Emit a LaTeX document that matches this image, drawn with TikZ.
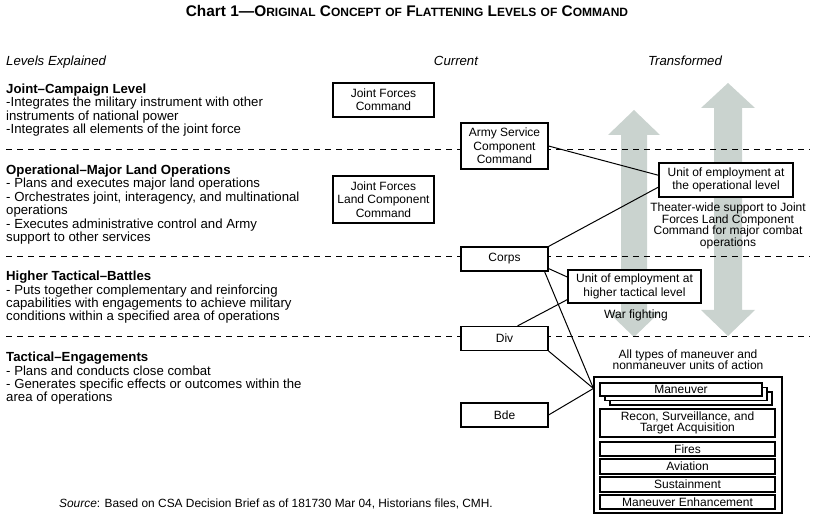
\documentclass[tikz,border=0pt]{standalone}
\usepackage{fontspec}
\setmainfont{Liberation Sans}
\usetikzlibrary{calc}

\definecolor{arrowgray}{RGB}{202,211,207}
\newcommand\lvlfont{\fontsize{13.2}{13.4}\selectfont}
\newcommand\boxfont{\fontsize{12}{13.3}\selectfont}
\newcommand\notefont{\fontsize{12}{11.7}\selectfont}
\newcommand\smallcap[1]{{\fontsize{12}{12}\selectfont #1}}

\begin{document}
\begin{tikzpicture}[x=1pt,y=-1pt,
    unitbox/.style={draw,line width=1.1pt,fill=white,align=center,inner sep=0pt,font=\boxfont},
    lvlline/.style={line width=1pt,dash pattern=on 6pt off 5pt},
    link/.style={line width=1pt},
    fatarrow/.style={fill=arrowgray,draw=none},
    lvltext/.style={anchor=base west,align=left,inner sep=0pt,font=\lvlfont},
    note/.style={anchor=base,align=center,inner sep=0pt,font=\notefont}]

    \useasboundingbox (0,0) rectangle (820,518);

    % title and column heads
    \node[anchor=base,inner sep=0pt,font=\fontsize{15.4}{15.4}\selectfont\bfseries] (title) at (407,17)
        {Chart 1—O\smallcap{RIGINAL} C\smallcap{ONCEPT} \smallcap{OF} F\smallcap{LATTENING} L\smallcap{EVELS} \smallcap{OF} C\smallcap{OMMAND}};
    \node[anchor=base west,inner sep=0pt,font=\lvlfont\itshape] (explhead) at (6,66) {Levels Explained};
    \node[anchor=base,inner sep=0pt,font=\lvlfont\itshape] (curhead) at (456,66) {Current};
    \node[anchor=base,inner sep=0pt,font=\lvlfont\itshape] (trnhead) at (685,66) {Transformed};

    % wide grey arrows
    \fill[fatarrow] (634,110) -- (660,135) -- (647,135) -- (647,312) -- (660,312) -- (634,337)
        -- (608,312) -- (621,312) -- (621,135) -- (608,135) -- cycle;
    \fill[fatarrow] (728,83) -- (755,108) -- (742,108) -- (742,310) -- (755,310) -- (728,336)
        -- (701,310) -- (714,310) -- (714,108) -- (701,108) -- cycle;

    % level separators
    \draw[lvlline] (6,150) -- (810,150);
    \draw[lvlline] (6,257) -- (810,257);
    \draw[lvlline] (6,337) -- (810,337);

    % levels explained (base = last line)
    \node[lvltext] (joint) at (6,133.5) {\textbf{Joint–Campaign Level}\\
        -Integrates the military instrument with other\\
        instruments of national power\\
        -Integrates all elements of the joint force};
    \node[lvltext] (oper) at (6,241.5) {\textbf{Operational–Major Land Operations}\\
        - Plans and executes major land operations\\
        - Orchestrates joint, interagency, and multinational\\
        operations\\
        - Executes administrative control and Army\\
        support to other services};
    \node[lvltext] (hightac) at (6,321) {\textbf{Higher Tactical–Battles}\\
        - Puts together complementary and reinforcing\\
        capabilities with engagements to achieve military\\
        conditions within a specified area of operations};
    \node[lvltext] (tac) at (6,402) {\textbf{Tactical–Engagements}\\
        - Plans and conducts close combat\\
        - Generates specific effects or outcomes within the\\
        area of operations};

    % current
    \node[unitbox,minimum width=101pt,minimum height=34pt] (jfc) at (383.5,100) {Joint Forces\\Command};
    \node[unitbox,minimum width=101pt,minimum height=47pt] (jflcc) at (383.5,199.5) {Joint Forces\\Land Component\\Command};
    \node[unitbox,minimum width=87pt,minimum height=46pt] (ascc) at (504.5,146) {Army Service\\Component\\Command};
    \node[unitbox,minimum width=87pt,minimum height=24pt] (corps) at (504.5,259) {Corps};
    \node[unitbox,minimum width=87pt,minimum height=24pt] (div) at (504.5,338.5) {Div};
    \node[unitbox,minimum width=87pt,minimum height=24pt] (bde) at (504.5,415) {Bde};

    % transformed
    \node[unitbox,minimum width=134pt,minimum height=34pt] (uop) at (726,180) {Unit of employment at\\the operational level};
    \node[note] (theater) at (728,246.5) {Theater-wide support to Joint\\Forces Land Component\\Command for major combat\\operations};
    \node[unitbox,minimum width=133pt,minimum height=33pt] (uht) at (634.5,286.5) {Unit of employment at\\higher tactical level};
    \node[note] (warfight) at (636,318.5) {War fighting};
    \node[note] (alltypes) at (688,370) {All types of maneuver and\\nonmaneuver units of action};

    \node[unitbox,minimum width=188pt,minimum height=136pt] (units) at (688,445) {};
    \node[unitbox,minimum width=162pt,minimum height=13pt] (man3) at (691,398.5) {};
    \node[unitbox,minimum width=162pt,minimum height=13pt] (man2) at (686,394) {};
    \node[unitbox,minimum width=162pt,minimum height=13pt] (man) at (681,389.5) {Maneuver};
    \node[unitbox,minimum width=175pt,minimum height=28pt,font=\notefont] (recon) at (687.5,423) {Recon, Surveillance, and\\Target Acquisition};
    \node[unitbox,minimum width=175pt,minimum height=14pt] (fires) at (687.5,449) {Fires};
    \node[unitbox,minimum width=175pt,minimum height=15pt] (avn) at (687.5,466.5) {Aviation};
    \node[unitbox,minimum width=175pt,minimum height=15pt] (sust) at (687.5,484.5) {Sustainment};
    \node[unitbox,minimum width=175pt,minimum height=14pt] (menh) at (687.5,502) {Maneuver Enhancement};

    \coordinate (hub) at ($(units.north west)+(0,12)$);

    % links
    \draw[link] (ascc.east) -- (uop.176);
    \draw[link] (corps.north east) -- (uop.186);
    \draw[link] ($(corps.south east)+(0,-3)$) -- (uht.172);
    \draw[link] ($(corps.south east)+(-4,0)$) -- (hub);
    \draw[link] ($(div.north)+(13,0)$) -- (uht.191);
    \draw[link] (div.south east) -- (hub);
    \draw[link] (bde.east) -- (hub);

    \node[anchor=base,inner sep=0pt,font=\fontsize{11.9}{11.9}\selectfont] (source) at (276,508)
        {\textit{Source}: Based on CSA Decision Brief as of 181730 Mar 04, Historians files, CMH.};
\end{tikzpicture}
\end{document}
